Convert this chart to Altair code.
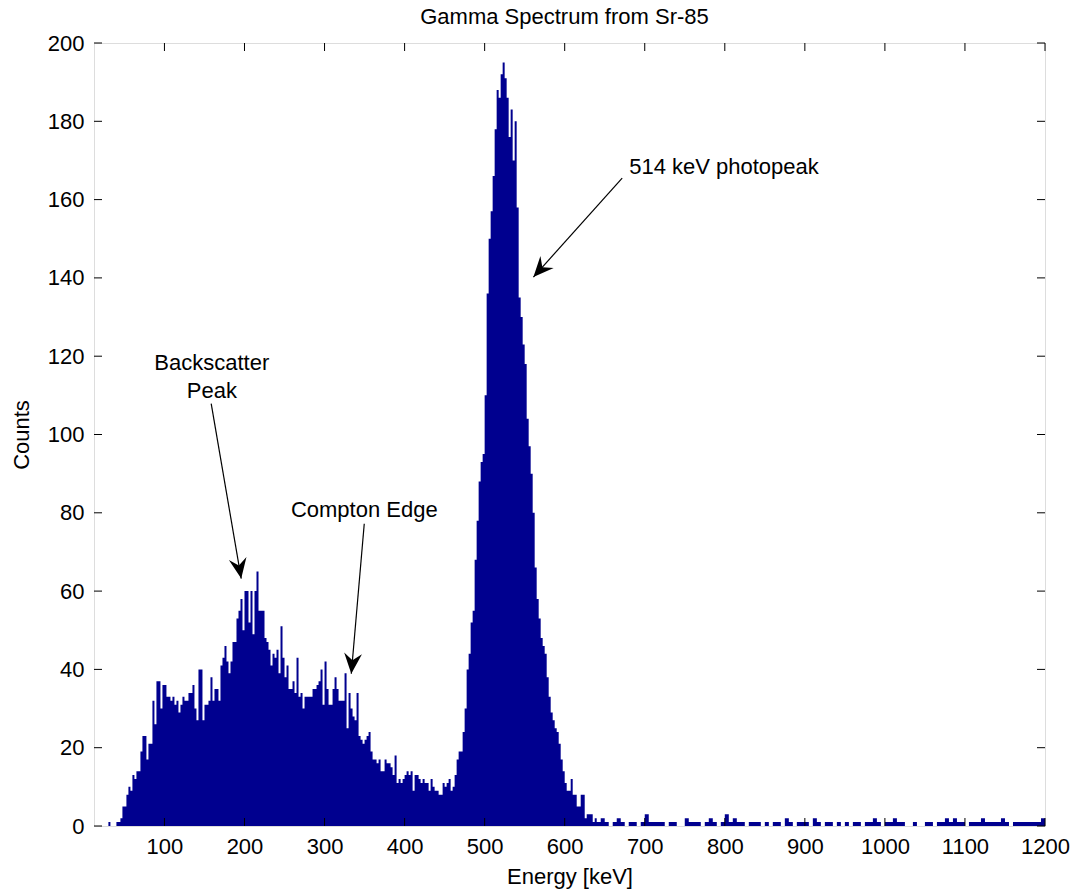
import altair as alt
import pandas as pd

# ---------------- data ----------------
# main spectrum: 2.5 keV bins starting at 30 keV
main_start = 30.0
main_width = 2.5
main_counts = [
    1, 0, 0, 0, 1, 1, 2, 5, 5, 8,            # 30
    10, 9, 13, 12, 14, 14, 19, 23, 23, 17,   # 55
    21, 21, 32, 26, 37, 37, 30, 36, 36, 33,  # 80
    33, 32, 33, 31, 32, 29, 31, 33, 32, 32,  # 105
    34, 34, 36, 30, 27, 40, 40, 27, 31, 31,  # 130
    32, 38, 32, 35, 35, 32, 41, 43, 46, 42,  # 155
    39, 42, 47, 47, 53, 55, 58, 50, 60, 60,  # 180
    52, 60, 49, 60, 65, 55, 55, 55, 48, 47,  # 205
    45, 41, 44, 43, 45, 39, 51, 43, 38, 41,  # 230
    35, 35, 37, 34, 43, 33, 34, 30, 33, 33,  # 255
    33, 33, 35, 35, 36, 37, 40, 31, 42, 35,  # 280
    31, 31, 35, 38, 35, 32, 32, 32, 39, 25,  # 305
    34, 30, 28, 27, 34, 23, 22, 21, 22, 23,  # 330
    24, 19, 17, 17, 16, 17, 14, 14, 17, 16,  # 355
    16, 15, 13, 18, 11, 12, 11, 12, 13, 14,  # 380
    13, 14, 9, 13, 13, 12, 11, 12, 11, 11,   # 405
    9, 12, 10, 9, 9, 8, 8, 11, 10, 11,       # 430
    12, 9, 10, 13, 17, 19, 19, 24, 30, 40,   # 455
    44, 52, 55, 68, 78, 88, 93, 95, 110, 136,          # 480
    150, 157, 166, 178, 188, 186, 192, 195, 191, 186,  # 505
    176, 183, 170, 180, 158, 135, 130, 123, 118, 104,  # 530
    97, 90, 80, 66, 58, 53, 48, 46, 44, 38,  # 555
    33, 29, 27, 25, 24, 21, 17, 14, 11, 9,   # 580
    9, 12, 8, 8, 5, 5, 8, 8, 2, 3,           # 605
    3, 3, 1, 2,                              # 630
]
# high-energy tail: 5 keV bins starting at 640 keV
tail_start = 640.0
tail_width = 5.0
tail_counts = [
    1, 2, 1, 0, 1, 2, 1, 0, 1, 1, 0, 1, 3, 1, 1, 1, 1, 0, 1, 1,
    0, 0, 2, 1, 1, 1, 0, 1, 2, 1, 0, 1, 3, 1, 2, 1, 1, 0, 1, 1,
    1, 0, 1, 0, 1, 1, 0, 2, 1, 0, 1, 1, 1, 0, 2, 1, 0, 1, 1, 0,
    1, 0, 1, 0, 1, 1, 0, 1, 1, 2, 1, 0, 1, 1, 2, 1, 1, 0, 0, 1,
    0, 0, 1, 1, 0, 1, 1, 2, 1, 2, 1, 1, 0, 1, 1, 1, 2, 1, 1, 1,
    1, 2, 1, 0, 1, 1, 1, 1, 1, 1, 1, 2,
]
x_end = 1200.0

x_ticks = [100, 200, 300, 400, 500, 600, 700, 800, 900, 1000, 1100, 1200]
y_ticks = [0, 20, 40, 60, 80, 100, 120, 140, 160, 180, 200]

label_text = ["514 keV photopeak", "Backscatter", "Peak", "Compton Edge"]
label_x = [799.0, 159.2, 159.2, 349.6]
label_y = [168.3, 118.2, 111.0, 80.8]

arrow_x0 = [671.8, 158.4, 349.6]
arrow_y0 = [165.5, 107.9, 77.2]
arrow_x1 = [560.9, 195.9, 333.4]
arrow_y1 = [140.2, 63.2, 38.9]
arrow_angle = [222, 170, 185]

# ---------------- tables ----------------
energy = [main_start + i * main_width for i in range(len(main_counts))]
energy += [tail_start + j * tail_width for j in range(len(tail_counts))]
counts = list(main_counts) + list(tail_counts)
energy.append(x_end)
counts.append(0)
spec = pd.DataFrame({"energy": energy, "counts": counts})

labels = pd.DataFrame({"t": label_text, "x": label_x, "y": label_y})
arrows = pd.DataFrame({"x0": arrow_x0, "y0": arrow_y0, "x1": arrow_x1,
                       "y1": arrow_y1, "ang": arrow_angle})
xt = pd.DataFrame({"v": x_ticks})
yt = pd.DataFrame({"v": y_ticks})

W, H = 951, 783
FONT = "Liberation Sans"
FS = 22
TL = 8

xscale = alt.Scale(domain=[12, 1200], nice=False, zero=False)
yscale = alt.Scale(domain=[0, 200], nice=False)

xaxis = alt.Axis(values=x_ticks, format="d", ticks=False, domain=False, grid=False,
                 labelFont=FONT, labelFontSize=FS, labelColor="black",
                 labelPadding=10, title="Energy [keV]", titleFont=FONT,
                 titleFontSize=FS, titleFontWeight="normal", titleColor="black",
                 titlePadding=9, labelFlush=False)
yaxis = alt.Axis(values=y_ticks, format="d", ticks=False, domain=False, grid=False,
                 labelFont=FONT, labelFontSize=FS, labelColor="black",
                 labelPadding=10, title="Counts", titleFont=FONT,
                 titleFontSize=FS, titleFontWeight="normal", titleColor="black",
                 titlePadding=14)

hist = alt.Chart(spec).mark_area(interpolate="step-after", color="#00008F").encode(
    x=alt.X("energy:Q", scale=xscale, axis=xaxis),
    y=alt.Y("counts:Q", scale=yscale, axis=yaxis),
)

tick_b = alt.Chart(xt).mark_rule(color="black", strokeWidth=1).encode(
    x=alt.X("v:Q", scale=xscale), y=alt.value(H), y2=alt.value(H - TL))
tick_t = alt.Chart(xt).mark_rule(color="black", strokeWidth=1).encode(
    x=alt.X("v:Q", scale=xscale), y=alt.value(0), y2=alt.value(TL))
tick_l = alt.Chart(yt).mark_rule(color="black", strokeWidth=1).encode(
    y=alt.Y("v:Q", scale=yscale), x=alt.value(0), x2=alt.value(TL))
tick_r = alt.Chart(yt).mark_rule(color="black", strokeWidth=1).encode(
    y=alt.Y("v:Q", scale=yscale), x=alt.value(W), x2=alt.value(W - TL))

arrow_lines = alt.Chart(arrows).mark_rule(color="black", strokeWidth=1.2).encode(
    x=alt.X("x0:Q", scale=xscale), y=alt.Y("y0:Q", scale=yscale),
    x2="x1:Q", y2="y1:Q")
arrow_heads = alt.Chart(arrows).mark_point(
    shape="M0,0 L0.7,1.6 L0,1.05 L-0.7,1.6 Z", filled=True, color="black",
    opacity=1, size=650, strokeWidth=0).encode(
    x=alt.X("x1:Q", scale=xscale), y=alt.Y("y1:Q", scale=yscale),
    angle=alt.Angle("ang:Q", scale=None))

texts = alt.Chart(labels).mark_text(font=FONT, fontSize=FS, color="black",
                                    align="center", baseline="middle").encode(
    x=alt.X("x:Q", scale=xscale), y=alt.Y("y:Q", scale=yscale), text="t:N")

chart = alt.layer(hist, tick_b, tick_t, tick_l, tick_r, arrow_lines,
                  arrow_heads, texts).properties(
    width=W, height=H,
    title=alt.TitleParams("Gamma Spectrum from Sr-85", font=FONT, fontSize=FS,
                          fontWeight="normal", color="black", offset=3, dx=-5),
    autosize=alt.AutoSizeParams(type="none"),
    padding={"left": 94, "top": 43, "right": 25, "bottom": 67},
).configure_view(stroke="black", strokeWidth=1.5).configure(background="white")

chart.save("out.html", embed_options={"renderer": "svg", "actions": False})
